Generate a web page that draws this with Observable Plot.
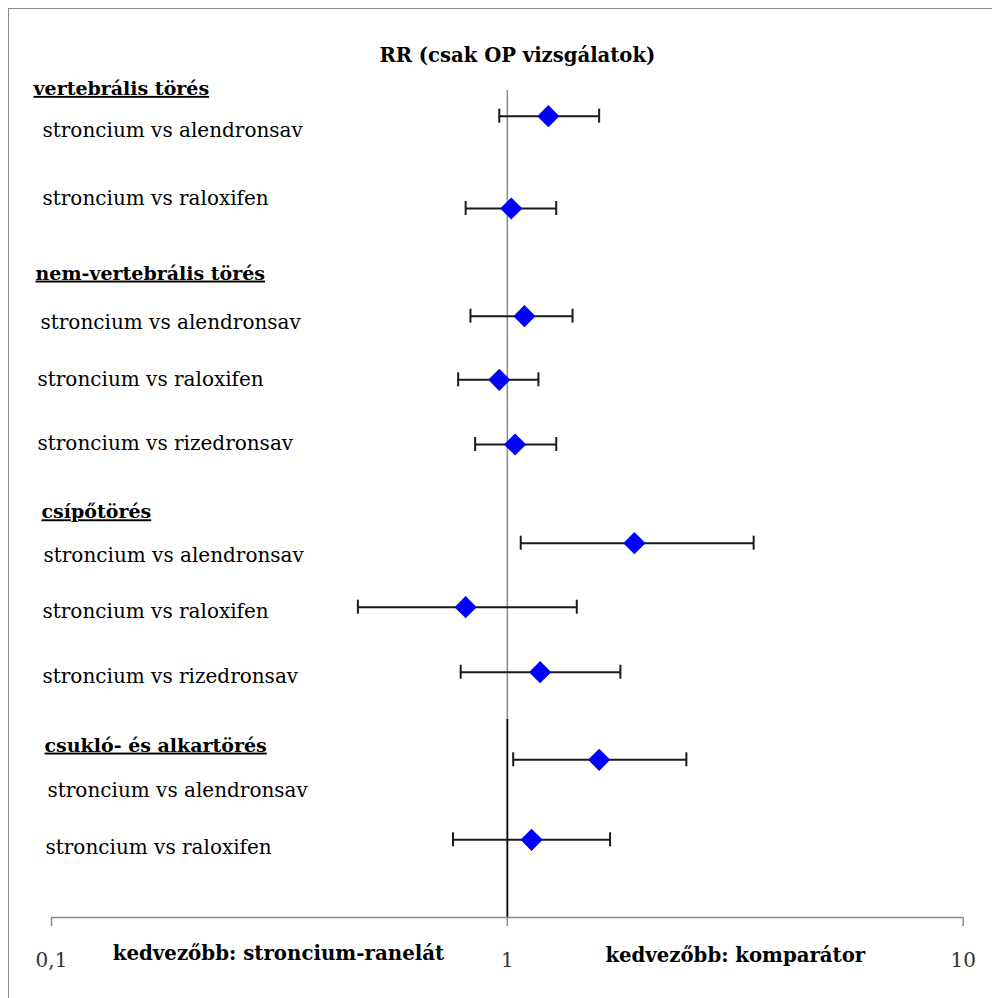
<!DOCTYPE html>
<html><head><meta charset="utf-8">
<script src="https://cdn.jsdelivr.net/npm/d3@7"></script>
<script src="https://cdn.jsdelivr.net/npm/@observablehq/plot@0.6"></script>
<style>
body{margin:0;background:#fff;}
#wrap{position:relative;width:992px;height:998px;overflow:hidden;background:#fff;}
#frame{position:absolute;left:8px;top:8px;width:1000px;height:1000px;border:1.5px solid #8c8c8c;box-sizing:border-box;}
#chart{position:absolute;left:0;top:0;}
</style></head><body>
<div id="wrap"><div id="frame"></div><div id="chart"></div></div>
<script>
// ---- data ----
const title = "RR (csak OP vizsgálatok)";
const groups = ["vertebrális törés", "nem-vertebrális törés", "csípőtörés", "csukló- és alkartörés"];
const comparisons = [
  "stroncium vs alendronsav", "stroncium vs raloxifen",
  "stroncium vs alendronsav", "stroncium vs raloxifen", "stroncium vs rizedronsav",
  "stroncium vs alendronsav", "stroncium vs raloxifen", "stroncium vs rizedronsav",
  "stroncium vs alendronsav", "stroncium vs raloxifen"
];
const groupIndex = [0, 0, 1, 1, 1, 2, 2, 2, 3, 3];
const rr = [1.23, 1.02, 1.09, 0.96, 1.04, 1.90, 0.81, 1.18, 1.59, 1.13];
const ciLow = [0.96, 0.81, 0.83, 0.78, 0.85, 1.07, 0.47, 0.79, 1.03, 0.76];
const ciHigh = [1.59, 1.28, 1.39, 1.17, 1.28, 3.47, 1.42, 1.77, 2.47, 1.68];
const xTicks = [0.1, 1, 10];
const favourLeft = "kedvezőbb: stroncium-ranelát";
const favourRight = "kedvezőbb: komparátor";

// ---- layout (vertical slots, 1 unit = 10 px) ----
const markerSlot = [11.57, 20.8, 31.57, 37.93, 44.4, 54.27, 60.67, 67.17, 75.93, 83.93];
const labelSlot = [13.0, 19.83, 32.2, 37.9, 44.3, 55.5, 61.07, 67.6, 79.0, 84.67];
const labelDx = [-9, -9, -11, -14, -14, -8, -9, -9, -4, -6];
const headerSlot = [8.83, 27.3, 51.17, 74.5];
const headerDx = [-18, -16, -10, -7];
const axisSlot = 91.7;

const rows = comparisons.map((c, i) => ({
  label: c, group: groups[groupIndex[i]], rr: rr[i], lo: ciLow[i], hi: ciHigh[i],
  y: markerSlot[i], ly: labelSlot[i], dx: labelDx[i]
}));
const caps = rows.flatMap(d => [{x: d.lo, y: d.y}, {x: d.hi, y: d.y}]);
const headers = groups.map((g, i) => ({label: g, y: headerSlot[i], dx: headerDx[i]}));

const FONT = "DejaVu Serif";

const plot = Plot.plot({
  width: 992, height: 998,
  marginLeft: 51, marginRight: 29.3, marginTop: 0, marginBottom: 81,
  style: {fontFamily: FONT, background: "transparent", overflow: "visible"},
  x: {type: "log", domain: [0.1, 10], axis: null},
  y: {type: "linear", domain: [0, axisSlot], range: [0, 917], axis: null},
  marks: [
    // reference line at RR = 1
    Plot.ruleX([1], {y1: 9.0, y2: 71.9, stroke: "#8a8a8a", strokeWidth: 1.5}),
    Plot.ruleX([1], {y1: 71.9, y2: axisSlot, stroke: "#000", strokeWidth: 1.8}),
    // x axis line and ticks
    Plot.ruleY([axisSlot], {stroke: "#8a8a8a", strokeWidth: 1.5}),
    Plot.axisX({
      ticks: xTicks, tickSize: 9, tickPadding: 26, stroke: "#8a8a8a", strokeWidth: 1.5,
      tickFormat: d => String(d).replace(".", ","), fontSize: 20, fill: "#333", fontFamily: FONT
    }),
    // confidence intervals
    Plot.ruleY(rows, {x1: "lo", x2: "hi", y: "y", stroke: "#1a1a1a", strokeWidth: 2}),
    Plot.ruleX(caps, {x: "x", y1: d => d.y - 0.7, y2: d => d.y + 0.7, stroke: "#1a1a1a", strokeWidth: 2}),
    // point estimates
    Plot.dot(rows, {x: "rr", y: "y", symbol: "diamond2", r: 10, fill: "#0000ff", stroke: "none"}),
    // row labels
    ...rows.map(d => Plot.text([d], {
      x: () => 0.1, y: "ly", text: "label", textAnchor: "start", dx: d.dx,
      fontSize: 20, fill: "#000", fontFamily: FONT
    })),
    // group headers
    ...headers.map(d => Plot.text([d], {
      x: () => 0.1, y: "y", text: "label", textAnchor: "start", dx: d.dx,
      fontSize: 19, fontWeight: "bold", fill: "#000", fontFamily: FONT
    })),
    // title
    Plot.text([title], {x: () => 1, y: () => 5.5, text: d => d, dx: 10,
      fontSize: 19.6, fontWeight: "bold", fill: "#000", fontFamily: FONT}),
    // favour annotations
    Plot.text([favourLeft], {x: () => Math.sqrt(0.1 * 1), y: () => 95.3, text: d => d, dx: -1,
      fontSize: 19.8, fontWeight: "bold", fill: "#000", fontFamily: FONT}),
    Plot.text([favourRight], {x: () => Math.sqrt(1 * 10), y: () => 95.5, text: d => d,
      fontSize: 19.7, fontWeight: "bold", fill: "#000", fontFamily: FONT})
  ]
});
plot.querySelectorAll("text").forEach(t => {
  if (groups.includes(t.textContent.trim())) {
    t.setAttribute("text-decoration", "underline");
    t.style.textDecoration = "underline";
  }
});
document.getElementById("chart").appendChild(plot);
</script>
</body></html>
